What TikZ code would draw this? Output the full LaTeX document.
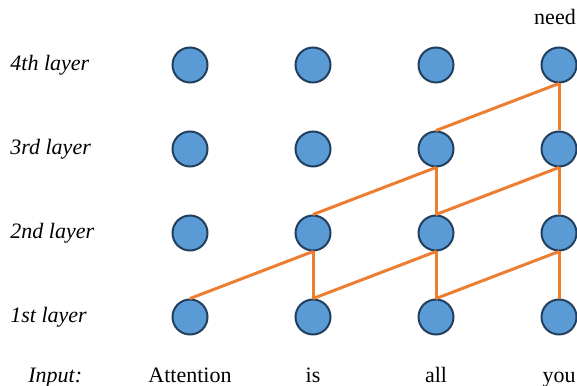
\documentclass[tikz,border=0pt]{standalone}
\usepackage{fontspec}
\setmainfont{Liberation Serif}
\usepackage{tikz}
\usetikzlibrary{positioning}
\definecolor{NodeBlue}{HTML}{5B9BD5}
\definecolor{NodeEdge}{HTML}{223F5E}
\definecolor{LinkOrange}{HTML}{ED7D31}
\tikzset{
  neuron/.style={circle, draw=NodeEdge, line width=1pt, fill=NodeBlue, minimum size=17.5pt, inner sep=0pt},
  layerlabel/.style={font=\fontsize{11}{13}\selectfont\itshape, inner sep=0pt},
  word/.style={font=\fontsize{11}{13}\selectfont, inner sep=0pt},
  link/.style={draw=LinkOrange, line width=1.5pt}
}

\begin{document}
\begin{tikzpicture}[node distance=42pt and 61.5pt, on grid]
  \useasboundingbox (-95pt,-34pt) rectangle (193.5pt,158.5pt);

  \node[neuron] (attn1) at (0,0) {};
  \node[neuron, right=of attn1] (is1) {};
  \node[neuron, right=of is1] (all1) {};
  \node[neuron, right=of all1] (you1) {};

  \node[neuron, above=of attn1] (attn2) {};
  \node[neuron, right=of attn2] (is2) {};
  \node[neuron, right=of is2] (all2) {};
  \node[neuron, right=of all2] (you2) {};

  \node[neuron, above=of attn2] (attn3) {};
  \node[neuron, right=of attn3] (is3) {};
  \node[neuron, right=of is3] (all3) {};
  \node[neuron, right=of all3] (you3) {};

  \node[neuron, above=of attn3] (attn4) {};
  \node[neuron, right=of attn4] (is4) {};
  \node[neuron, right=of is4] (all4) {};
  \node[neuron, right=of all4] (you4) {};

  \node[layerlabel, left=90pt of attn4, anchor=west] (lay4) {4th layer};
  \node[layerlabel, left=90pt of attn3, anchor=west] (lay3) {3rd layer};
  \node[layerlabel, left=90pt of attn2, anchor=west] (lay2) {2nd layer};
  \node[layerlabel, left=90pt of attn1, anchor=west] (lay1) {1st layer};

  \node[layerlabel, below left=32.5pt and 81pt of attn1, anchor=base west] (input) {Input:};
  \node[word, below=32.5pt of attn1, anchor=base] (wattn) {Attention};
  \node[word, below=32.5pt of is1, anchor=base] (wis) {is};
  \node[word, below=32.5pt of all1, anchor=base] (wall) {all};
  \node[word, below=32.5pt of you1, anchor=base] (wyou) {you};
  \node[word, above left=20pt and 2pt of you4, anchor=base] (wneed) {need};

  \draw[link] (attn1.north) -- (is2.south);
  \draw[link] (is1.north) -- (is2.south);
  \draw[link] (is1.north) -- (all2.south);
  \draw[link] (all1.north) -- (all2.south);
  \draw[link] (all1.north) -- (you2.south);
  \draw[link] (you1.north) -- (you2.south);
  \draw[link] (is2.north) -- (all3.south);
  \draw[link] (all2.north) -- (all3.south);
  \draw[link] (all2.north) -- (you3.south);
  \draw[link] (you2.north) -- (you3.south);
  \draw[link] (all3.north) -- (you4.south);
  \draw[link] (you3.north) -- (you4.south);
\end{tikzpicture}
\end{document}
